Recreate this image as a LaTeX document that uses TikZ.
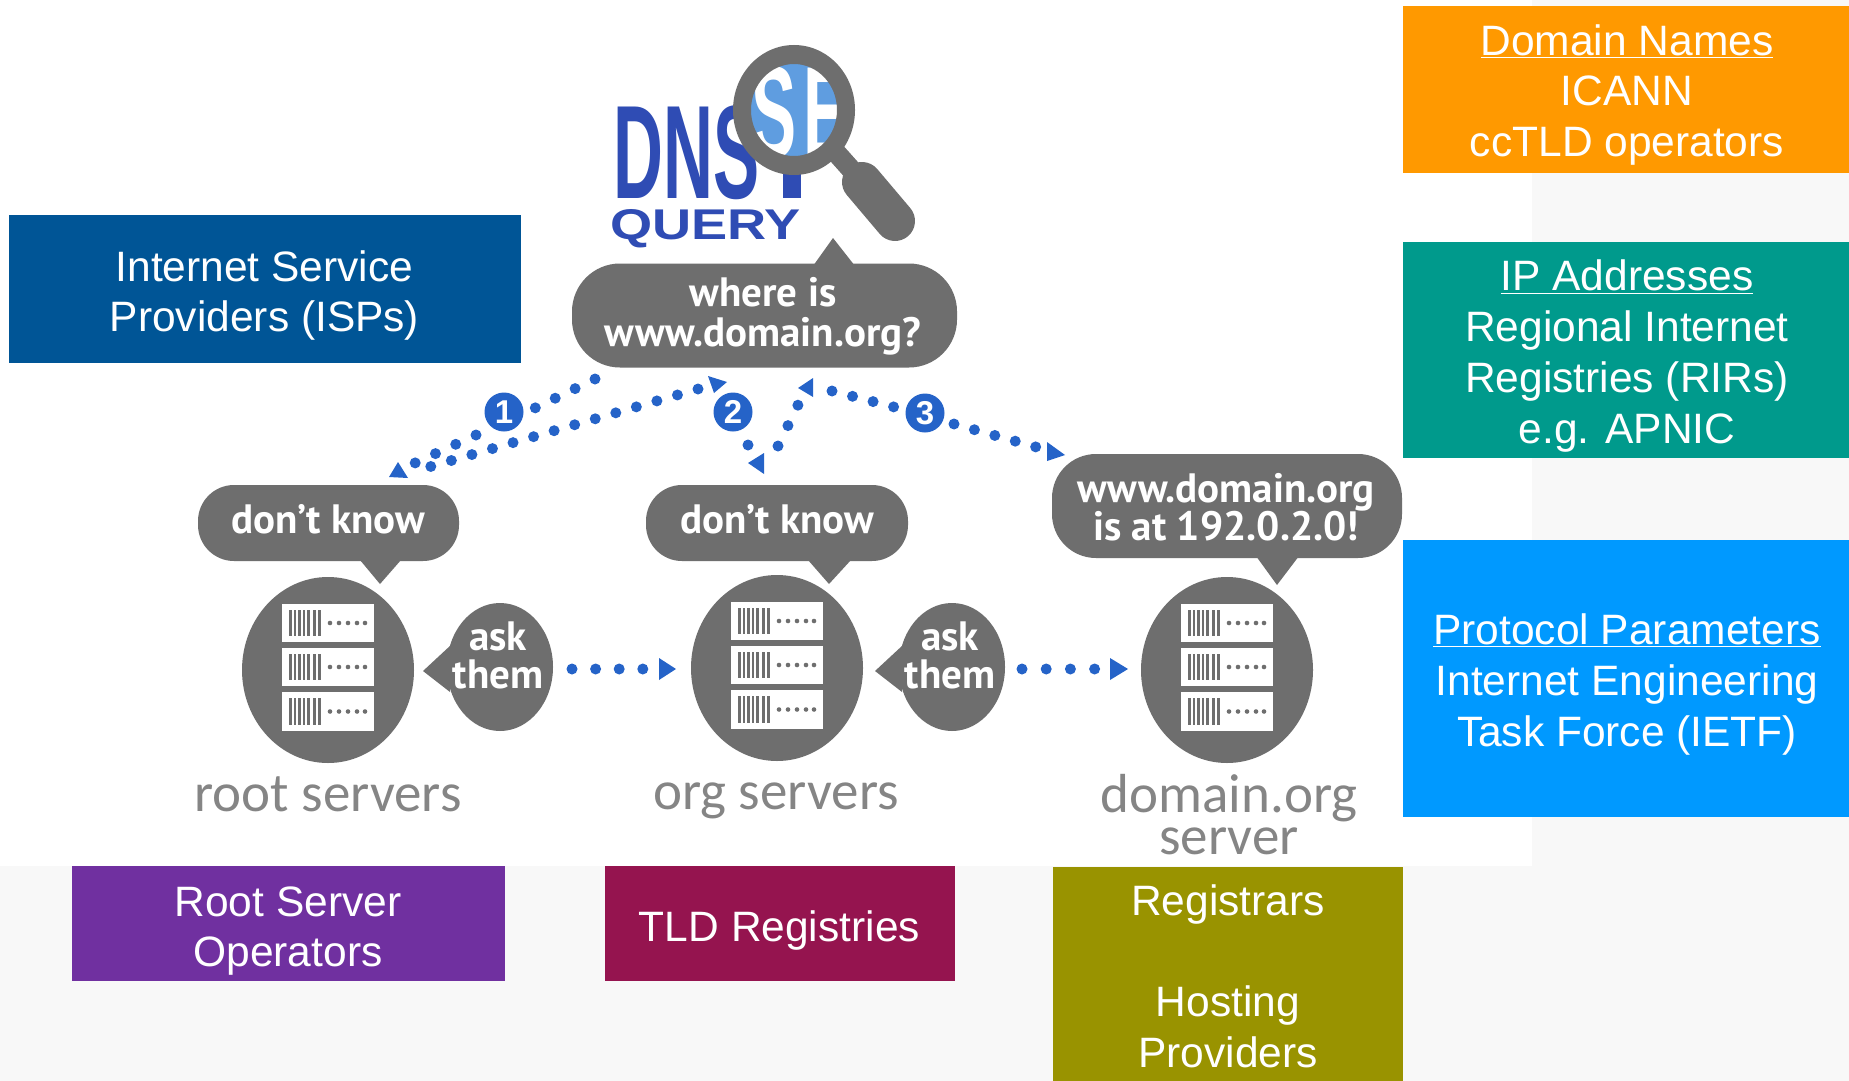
\documentclass[tikz,border=0pt]{standalone}
\usepackage{graphicx}
\usepackage{fontspec}
\setmainfont{Liberation Sans}
\newfontfamily\bubblefont{PT Sans}
\newfontfamily\labelfont{Carlito}
\definecolor{pagegrey}{HTML}{F8F8F8}
\definecolor{bubblegrey}{HTML}{6E6E6E}
\definecolor{dotblue}{HTML}{2563C8}
\definecolor{dnsblue}{HTML}{2F4CB4}
\definecolor{lensblue}{HTML}{5F9DE0}
\definecolor{labelgrey}{HTML}{858585}
\definecolor{cOrange}{HTML}{FF9900}
\definecolor{cTeal}{HTML}{009A8C}
\definecolor{cBright}{HTML}{0099FF}
\definecolor{cNavy}{HTML}{005596}
\definecolor{cPurple}{HTML}{7030A0}
\definecolor{cCrimson}{HTML}{95144F}
\definecolor{cOlive}{HTML}{999300}
\tikzset{
  band/.style={fill=#1,draw=none},
  bandtext/.style={text=white,align=center,inner sep=0pt,font=\fontsize{42.5}{50.7}\selectfont},
  bubble/.style={fill=bubblegrey,draw=none,rounded corners=36pt,inner sep=0pt},
  bubbletext/.style={text=white,align=center,inner sep=0pt,font=\bubblefont\bfseries\fontsize{41}{38}\selectfont},
  tailfill/.style={fill=bubblegrey,draw=none},
  dotline/.style={draw=dotblue,line width=11pt,line cap=round,dash pattern=on 0pt off #1},
  tipfill/.style={fill=dotblue,draw=none},
  badge/.style={circle,fill=dotblue,minimum size=39pt,inner sep=0pt,text=white,font=\bfseries\fontsize{33}{33}\selectfont},
  serverlabel/.style={text=labelgrey,align=center,inner sep=0pt,font=\labelfont\fontsize{55}{42}\selectfont},
  rack/.pic={
    \fill[bubblegrey] (0,0) ellipse [x radius=86,y radius=93];
    \foreach \yy/\hh in {-66/38,-22/38,22/39}{
      \fill[white] (-46,\yy) rectangle (46,\yy+\hh);
      \foreach \bx in {-39,-34.5,-30,-25.5,-21,-15,-10}
        \fill[bubblegrey] (\bx,\yy+6) rectangle (\bx+2.5,\yy+\hh-6);
      \foreach \dx in {2,11,20,29,37}
        \fill[bubblegrey] (\dx,\yy+\hh/2) circle (2.3);
    }
  }
}
\begin{document}
\begin{tikzpicture}[x=1pt,y=-1pt]
\useasboundingbox (0,0) rectangle (1849,1081);
% backgrounds
\fill[pagegrey] (0,0) rectangle (1849,1081);
\fill[white] (0,0) rectangle (1532,866);
% coloured boxes
\fill[band=cOrange] (1403,6) rectangle (1849,173);
\fill[band=cTeal] (1403,242) rectangle (1849,458);
\fill[band=cBright] (1403,540) rectangle (1849,817);
\fill[band=cNavy] (9,215) rectangle (521,363);
\fill[band=cPurple] (72,866) rectangle (505,981);
\fill[band=cCrimson] (605,866) rectangle (955,981);
\fill[band=cOlive] (1053,867) rectangle (1403,1081);
\node[bandtext] (tDomain) at (1627,95) {\underline{Domain Names}\\ICANN\\ccTLD operators};
\node[bandtext] (tIP) at (1627,356) {\underline{IP Addresses}\\Regional Internet\\Registries (RIRs)\\e.g. APNIC};
\node[bandtext] (tProto) at (1627,684.5) {\underline{Protocol Parameters}\\Internet Engineering\\Task Force (IETF)};
\node[bandtext] (tISP) at (264.5,295.5) {Internet Service\\Providers (ISPs)};
\node[bandtext] (tRoot) at (288,931) {Root Server\\Operators};
\node[bandtext] (tTLD) at (779.5,930.5) {TLD Registries};
\node[bandtext] (tReg) at (1228,976) {Registrars\\[50.7pt]Hosting\\Providers};
% DNS logo
\node[inner sep=0pt,anchor=base west,text=dnsblue] (dns) at (613,198)
  {\fontsize{133}{133}\selectfont\bfseries\scalebox{.52}[1]{DNS}};
\fill[dnsblue] (783,170) rectangle (801,198);
\node[inner sep=0pt,anchor=base west,text=dnsblue] (query) at (610,239)
  {\fontsize{43}{43}\selectfont\bfseries\scalebox{1.26}[1]{QUERY}};
% magnifier
\fill[lensblue] (794,110) ellipse [x radius=45,y radius=48];
\begin{scope}
  \clip (794,110) ellipse [x radius=45,y radius=48];
  \node[inner sep=0pt,anchor=base west,text=white] (seS) at (751,157)
    {\fontsize{130}{130}\selectfont\bfseries\scalebox{.52}[1]{S}};
  \node[inner sep=0pt,anchor=base west,text=white] (seE) at (803,157)
    {\fontsize{130}{130}\selectfont\bfseries\scalebox{.52}[1]{E}};
\end{scope}
\fill[bubblegrey,even odd rule] (794,110) ellipse [x radius=61,y radius=65]
  (794,110) ellipse [x radius=43,y radius=46];
\draw[bubblegrey,line width=20pt] (832,148) -- (865,185);
\draw[bubblegrey,line width=40pt,line cap=round] (862,182) -- (895,221);
% speech bubbles
\fill[tailfill] (813,266) -- (833,238) -- (855,266) -- cycle;
\node[bubble,rounded corners=48pt,minimum width=385pt,minimum height=104pt] (q) at (764.5,315.5) {};
\node[bubbletext] (qt) at (763,316) {where is\\[2pt]www.domain.org?};
\fill[tailfill] (360,560) -- (380,584) -- (401,560) -- cycle;
\node[bubble,minimum width=261pt,minimum height=76pt] (b1) at (328.5,523) {};
\node[bubbletext] (b1t) at (328,519) {don’t know};
\fill[tailfill] (808,560) -- (829,584) -- (851,560) -- cycle;
\node[bubble,minimum width=262pt,minimum height=76pt] (b2) at (777,523) {};
\node[bubbletext] (b2t) at (777,519) {don’t know};
\fill[tailfill] (1256,556) -- (1277,585) -- (1299,556) -- cycle;
\node[bubble,rounded corners=44pt,minimum width=350pt,minimum height=104pt] (b3) at (1227,506) {};
\node[bubbletext] (b3t) at (1226,507) {www.domain.org\\is at 192.0.2.0!};
% servers
\pic at (328,670) {rack};
\pic at (777,668) {rack};
\pic at (1227,670) {rack};
% ask them bubbles
\fill[tailfill] (451,645) -- (423,671) -- (450,692) -- cycle;
\fill[tailfill] (500,667) ellipse [x radius=53,y radius=64];
\node[bubbletext] (ask1) at (498,655) {ask\\them};
\fill[tailfill] (903,645) -- (875,671) -- (902,692) -- cycle;
\fill[tailfill] (952,667) ellipse [x radius=53,y radius=64];
\node[bubbletext] (ask2) at (950,655) {ask\\them};
% server labels
\node[serverlabel] (lRoot) at (328,794) {root servers};
\node[serverlabel] (lOrg) at (776,801) {org servers};
\node[serverlabel] (lDom) at (1229,815) {domain.org\\server};
% numbered badges
\node[badge] (n1) at (504,412) {1};
\node[badge] (n2) at (733,412) {2};
\node[badge] (n3) at (925,413) {3};
% dotted connectors
\coordinate (a1) at (595,379); \coordinate (a2) at (535,408);
\coordinate (a3) at (476,435); \coordinate (a4) at (415,463);
\coordinate (b1s) at (698,389); \coordinate (b1e) at (429,467);
\coordinate (c1) at (778,446); \coordinate (c2) at (798,405);
\coordinate (d1) at (832,391); \coordinate (d2) at (894,407);
\coordinate (e1) at (954,424); \coordinate (e2) at (1036,447);
\coordinate (f1) at (572,669); \coordinate (f2) at (643,669);
\coordinate (g1) at (1022,669); \coordinate (g2) at (1095,669);
\draw[dotline=22.1pt] (a1) -- (a2);
\draw[dotline=22.3pt] (a3) -- (a4);
\draw[dotline=21.4pt] (b1s) -- (b1e);
\draw[dotline=22.7pt] (c1) -- (c2);
\draw[dotline=21.2pt] (d1) -- (d2);
\draw[dotline=21.2pt] (e1) -- (e2);
\draw[dotline=23.6pt] (f1) -- (f2);
\draw[dotline=24.2pt] (g1) -- (g2);
\fill[dotblue] (748,445) circle (5.5);
% arrowheads
\fill[tipfill] (398,462) -- (389,477) -- (408,478) -- cycle;
\fill[tipfill] (708,376) -- (727,382) -- (714,393) -- cycle;
\fill[tipfill] (748,463) -- (764,453) -- (764,474) -- cycle;
\fill[tipfill] (798,388) -- (813,378) -- (813,397) -- cycle;
\fill[tipfill] (1047,442) -- (1065,455) -- (1047,461) -- cycle;
\fill[tipfill] (659,658) -- (676,669) -- (659,680) -- cycle;
\fill[tipfill] (1110,658) -- (1128,669) -- (1110,680) -- cycle;
\end{tikzpicture}
\end{document}
